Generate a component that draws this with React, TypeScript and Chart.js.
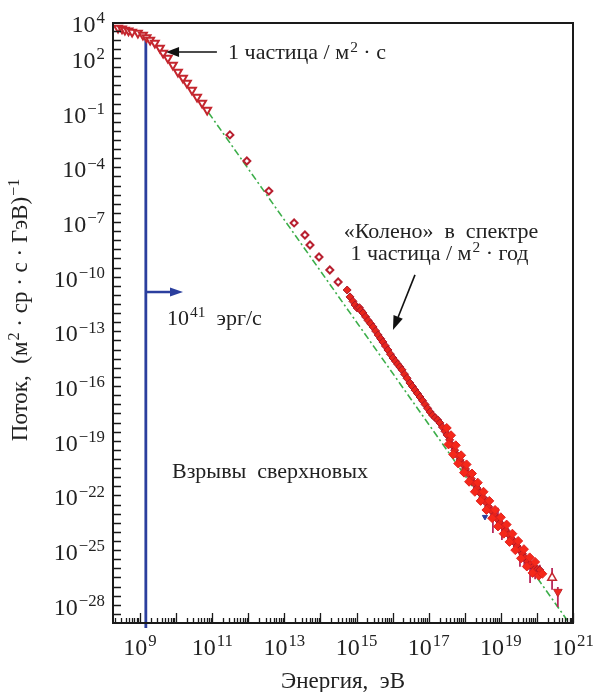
import React, { useEffect, useRef } from "react";
import { Chart, registerables } from "chart.js";

Chart.register(...registerables);

const FONT = '"Liberation Serif", "DejaVu Serif", serif';

// Axis ranges (log10 units)
const xLogMin = 8.25;
const xLogMax = 21;
const yLogMin = -29;
const yLogMax = 3.92;

// Tick labels (exponents of ten)
const xLabelExps = [9, 11, 13, 15, 17, 19, 21];
const yLabelExps = [4, 2, -1, -4, -7, -10, -13, -16, -19, -22, -25, -28];

// Open down-pointing triangles (low energy)
const triangleLogE = [8.39, 8.5, 8.58, 8.68, 8.78, 8.94, 9.08, 9.18, 9.28, 9.41, 9.55, 9.64, 9.77, 9.91, 10.05, 10.19, 10.3, 10.44, 10.58, 10.72, 10.86];
const triangleLogF = [3.65, 3.6, 3.54, 3.49, 3.43, 3.37, 3.26, 3.13, 2.99, 2.82, 2.55, 2.27, 2.0, 1.62, 1.23, 0.9, 0.63, 0.24, -0.14, -0.47, -0.85];

// Open diamonds (direct measurements)
const diamondLogE = [11.49, 11.96, 12.57, 13.27, 13.57, 13.71, 13.96, 14.26, 14.49];
const diamondLogF = [-2.22, -3.65, -5.3, -7.05, -7.71, -8.26, -8.92, -9.63, -10.29];

// Dense filled markers (air showers)
const bandLogE = [14.74, 14.82, 14.9, 14.96, 15.02, 15.08, 15.12, 15.18, 15.25, 15.32, 15.39, 15.46, 15.53, 15.6, 15.67, 15.73, 15.8, 15.87, 15.94, 16.01, 16.08, 16.14, 16.2, 16.26, 16.33, 16.4, 16.48, 16.55, 16.62, 16.69, 16.76, 16.83, 16.9, 16.97, 17.04, 17.11, 17.18, 17.25, 17.31, 17.38, 17.45, 17.51, 17.58, 17.65, 17.72, 17.8, 17.87, 17.95, 18.02, 18.1, 18.18, 18.26, 18.34, 18.42, 18.5, 18.58, 18.66, 18.74, 18.82, 18.9, 18.98, 19.06, 19.14, 19.22, 19.3, 19.38, 19.45, 19.53, 19.6, 19.67, 19.74, 19.81, 19.89, 19.96, 20.02, 20.08];
const bandLogF = [-10.73, -11.11, -11.35, -11.55, -11.72, -11.7, -11.85, -11.99, -12.2, -12.4, -12.58, -12.76, -12.98, -13.2, -13.4, -13.58, -13.8, -14.02, -14.25, -14.46, -14.64, -14.8, -14.95, -15.11, -15.35, -15.57, -15.83, -16.02, -16.22, -16.41, -16.6, -16.8, -17.01, -17.22, -17.42, -17.6, -17.74, -17.86, -18.02, -18.25, -18.48, -18.68, -18.95, -19.25, -19.52, -19.8, -20.05, -20.3, -20.55, -20.82, -21.08, -21.35, -21.6, -21.86, -22.1, -22.38, -22.62, -22.85, -23.08, -23.3, -23.51, -23.72, -23.92, -24.15, -24.38, -24.58, -24.78, -24.99, -25.2, -25.42, -25.62, -25.78, -25.92, -26.0, -26.05, -26.09];

// Scatter of the band at the highest energies (thick bright part)
const scatterLogE = [17.5, 17.55, 17.62, 17.68, 17.75, 17.82, 17.9, 17.98, 18.05, 18.12, 18.2, 18.28, 18.36, 18.44, 18.52, 18.6, 18.68, 18.76, 18.84, 18.92, 19.0, 19.08, 19.16, 19.24, 19.32, 19.4, 19.48, 19.56, 19.64, 19.72, 19.8, 19.88, 19.95, 20.05, 20.15];
const scatterLogF = [-18.3, -19.2, -18.7, -19.75, -19.25, -20.25, -19.8, -20.75, -20.3, -21.25, -20.8, -21.8, -21.3, -22.3, -21.8, -22.8, -22.3, -23.25, -22.8, -23.7, -23.2, -24.1, -23.6, -24.55, -24.1, -25.0, -24.5, -25.45, -24.95, -25.9, -25.4, -26.25, -25.65, -26.4, -26.3];

// Error bars (low / high ends)
const errLogE = [18.62, 18.78, 18.92, 19.03, 19.2, 19.53, 19.65, 19.81, 19.95, 20.08, 20.42, 20.58];
const errLowLogF = [-22.9, -24.06, -23.34, -24.44, -24.6, -25.92, -26.0, -26.8, -26.6, -26.47, -27.18, -28.12];
const errHighLogF = [-22.1, -23.23, -22.68, -23.34, -23.8, -24.99, -25.1, -25.92, -25.7, -25.81, -25.98, -27.02];

// Open up triangle and filled down triangle (highest energies)
const openUpLogE = [20.42];
const openUpLogF = [-26.52];
const limitLogE = [20.58];
const limitLogF = [-27.29];

// Small blue marker
const blueMarkLogE = [18.56];
const blueMarkLogF = [-23.18];

// Power-law reference line (green dash-dot)
const fitLogE = [10.9, 21.0];
const fitLogF = [-1.0, -29.3];

// Blue vertical line (supernova limit)
const blueLineLogE = [9.16, 9.16];
const blueLineLogF = [3.26, -29.27];

const pts = (le: number[], lf: number[]) => le.map((e, i) => ({ x: 10 ** e, y: 10 ** lf[i] }));

type Part = { t: string; sup?: boolean };

function drawRich(ctx: CanvasRenderingContext2D, parts: Part[], x: number, y: number, size: number, align: "left" | "center" | "right", color = "#222") {
  const supSize = size * 0.7;
  let total = 0;
  const widths = parts.map((p) => {
    ctx.font = `${p.sup ? supSize : size}px ${FONT}`;
    const w = ctx.measureText(p.t).width + (p.sup ? 1 : 0);
    total += w;
    return w;
  });
  let cx = align === "center" ? x - total / 2 : align === "right" ? x - total : x;
  ctx.textAlign = "left";
  ctx.textBaseline = "alphabetic";
  ctx.fillStyle = color;
  parts.forEach((p, i) => {
    ctx.font = `${p.sup ? supSize : size}px ${FONT}`;
    ctx.fillText(p.t, cx + (p.sup ? 1 : 0), p.sup ? y - size * 0.36 : y);
    cx += widths[i];
  });
}

function drawArrow(ctx: CanvasRenderingContext2D, x1: number, y1: number, x2: number, y2: number, color: string, width: number, headLen: number, headW: number) {
  const ang = Math.atan2(y2 - y1, x2 - x1);
  const bx = x2 - headLen * Math.cos(ang);
  const by = y2 - headLen * Math.sin(ang);
  ctx.strokeStyle = color;
  ctx.fillStyle = color;
  ctx.lineWidth = width;
  ctx.beginPath();
  ctx.moveTo(x1, y1);
  ctx.lineTo(bx, by);
  ctx.stroke();
  ctx.beginPath();
  ctx.moveTo(x2, y2);
  ctx.lineTo(bx + (headW / 2) * Math.sin(ang), by - (headW / 2) * Math.cos(ang));
  ctx.lineTo(bx - (headW / 2) * Math.sin(ang), by + (headW / 2) * Math.cos(ang));
  ctx.closePath();
  ctx.fill();
}

const supLabel = (exp: number): Part[] => [{ t: "10" }, { t: exp < 0 ? "\u2212" + Math.abs(exp) : String(exp), sup: true }];

const decorPlugin = {
  id: "decor",
  afterDatasetsDraw(chart: any) {
    const ctx: CanvasRenderingContext2D = chart.ctx;
    const xs = chart.scales.x;
    const ys = chart.scales.y;
    const X = (le: number) => xs.getPixelForValue(10 ** le);
    const Y = (lf: number) => ys.getPixelForValue(10 ** lf);
    const { left, right, top, bottom } = chart.chartArea;
    ctx.save();

    // frame
    ctx.strokeStyle = "#1a1a1a";
    ctx.lineWidth = 2;
    ctx.strokeRect(left, top, right - left, bottom - top);

    // x ticks (inward)
    ctx.lineWidth = 1.3;
    ctx.beginPath();
    for (let d = 8; d <= 21; d++) {
      for (let m = 1; m <= 9; m++) {
        const le = d + Math.log10(m);
        if (le < xLogMin + 0.01 || le > xLogMax + 1e-6) continue;
        const px = Math.round(X(le)) + 0.5;
        const len = m === 1 ? 10 : 5;
        ctx.moveTo(px, bottom);
        ctx.lineTo(px, bottom - len);
      }
    }
    // y ticks every half decade
    for (let k = Math.ceil(yLogMin * 2) + 1; k <= Math.floor(yLogMax * 2); k++) {
      const py = Math.round(Y(k / 2)) + 0.5;
      ctx.moveTo(left, py);
      ctx.lineTo(left + 8, py);
    }
    ctx.stroke();

    // tick labels
    xLabelExps.forEach((e) => drawRich(ctx, supLabel(e), X(e), bottom + 32, 24, "center"));
    yLabelExps.forEach((e) => drawRich(ctx, supLabel(e), left - 8, Y(e) + 10, 24, "right"));

    // axis titles
    drawRich(ctx, [{ t: "Энергия,  эВ" }], (left + right) / 2, 688, 23, "center");
    ctx.save();
    ctx.translate(27, 310);
    ctx.rotate(-Math.PI / 2);
    drawRich(ctx, [{ t: "Поток,  (м" }, { t: "2", sup: true }, { t: " · ср · с · ГэВ)" }, { t: "\u22121", sup: true }], 0, 0, 23, "center");
    ctx.restore();

    // annotations
    drawArrow(ctx, X(11.13), Y(2.33), X(9.72), Y(2.33), "#111", 1.6, 13, 10);
    drawRich(ctx, [{ t: "1 частица / м" }, { t: "2", sup: true }, { t: " · с" }], X(11.44), Y(1.92), 22, "left");

    drawRich(ctx, [{ t: "«Колено»  в  спектре" }], X(17.34), Y(-7.87), 22, "center");
    drawRich(ctx, [{ t: "1 частица / м" }, { t: "2", sup: true }, { t: " · год" }], X(17.3), Y(-9.08), 22, "center");
    drawArrow(ctx, X(16.62), Y(-9.9), X(16.01), Y(-12.92), "#111", 1.6, 14, 10);

    drawArrow(ctx, X(9.16), Y(-10.84), X(10.19), Y(-10.84), "#2b3f9e", 2.5, 13, 9);
    drawRich(ctx, [{ t: "10" }, { t: "41", sup: true }, { t: "  эрг/с" }], X(9.75), Y(-12.65), 22, "left");
    drawRich(ctx, [{ t: "Взрывы  сверхновых" }], X(9.885), Y(-21.04), 22, "left");

    ctx.restore();
  },
};

export default function App() {
  const ref = useRef<HTMLCanvasElement>(null);
  useEffect(() => {
    if (!ref.current) return;
    const errData: any[] = [];
    errLogE.forEach((e, i) => {
      errData.push({ x: 10 ** e, y: 10 ** errLowLogF[i] });
      errData.push({ x: 10 ** e, y: 10 ** errHighLogF[i] });
      errData.push({ x: 10 ** e, y: null });
    });
    const chart = new Chart(ref.current, {
      type: "scatter",
      data: {
        datasets: [
          {
            data: pts(fitLogE, fitLogF),
            showLine: true,
            borderColor: "#3cae4a",
            borderWidth: 1.6,
            borderDash: [7, 3, 2, 3],
            pointRadius: 0,
            order: 10,
          } as any,
          {
            data: pts(blueLineLogE, blueLineLogF),
            showLine: true,
            borderColor: "#2b3f9e",
            borderWidth: 2.8,
            pointRadius: 0,
            clip: false,
            order: 9,
          },
          {
            data: errData,
            showLine: true,
            spanGaps: false,
            borderColor: "#b8285a",
            borderWidth: 1.8,
            pointRadius: 0,
            order: 8,
          },
          {
            data: pts(triangleLogE, triangleLogF),
            pointStyle: "triangle",
            rotation: 180,
            pointRadius: 4.5,
            borderWidth: 2,
            borderColor: "#c4262e",
            backgroundColor: "rgba(255,255,255,0.9)",
            order: 5,
          },
          {
            data: pts(diamondLogE, diamondLogF),
            pointStyle: "rectRot",
            pointRadius: 3.5,
            borderWidth: 2,
            borderColor: "#b82030",
            backgroundColor: "#ffffff",
            order: 5,
          },
          {
            data: pts(bandLogE, bandLogF),
            pointStyle: "rectRot",
            pointRadius: 4,
            borderWidth: 1,
            borderColor: "#a8182a",
            backgroundColor: "#e8251c",
            order: 4,
          },
          {
            data: pts(scatterLogE, scatterLogF),
            pointStyle: "rectRot",
            pointRadius: 4.5,
            borderWidth: 1,
            borderColor: "#e0201c",
            backgroundColor: "#f5281a",
            order: 3,
          },
          {
            data: pts(openUpLogE, openUpLogF),
            pointStyle: "triangle",
            pointRadius: 5,
            borderWidth: 1.5,
            borderColor: "#c4262e",
            backgroundColor: "#ffffff",
            order: 2,
          },
          {
            data: pts(limitLogE, limitLogF),
            pointStyle: "triangle",
            rotation: 180,
            pointRadius: 5,
            borderWidth: 1,
            borderColor: "#c4262e",
            backgroundColor: "#ee2a1e",
            order: 2,
          },
          {
            data: pts(blueMarkLogE, blueMarkLogF),
            pointStyle: "triangle",
            rotation: 180,
            pointRadius: 3,
            borderWidth: 1,
            borderColor: "#2b3f9e",
            backgroundColor: "#2b3f9e",
            order: 2,
          },
        ],
      },
      options: {
        responsive: false,
        animation: false,
        devicePixelRatio: 1,
        layout: { padding: { left: 113, right: 26, top: 23, bottom: 69 } },
        plugins: { legend: { display: false }, tooltip: { enabled: false } },
        scales: {
          x: { type: "logarithmic", min: 10 ** xLogMin, max: 10 ** xLogMax, display: false },
          y: { type: "logarithmic", min: 10 ** yLogMin, max: 10 ** yLogMax, display: false },
        },
      },
      plugins: [decorPlugin],
    });
    return () => chart.destroy();
  }, []);
  return (
    <div style={{ position: "absolute", left: 0, top: 0, width: 599, height: 692, background: "#fff" }}>
      <canvas ref={ref} width={599} height={692} style={{ width: 599, height: 692 }} />
    </div>
  );
}
